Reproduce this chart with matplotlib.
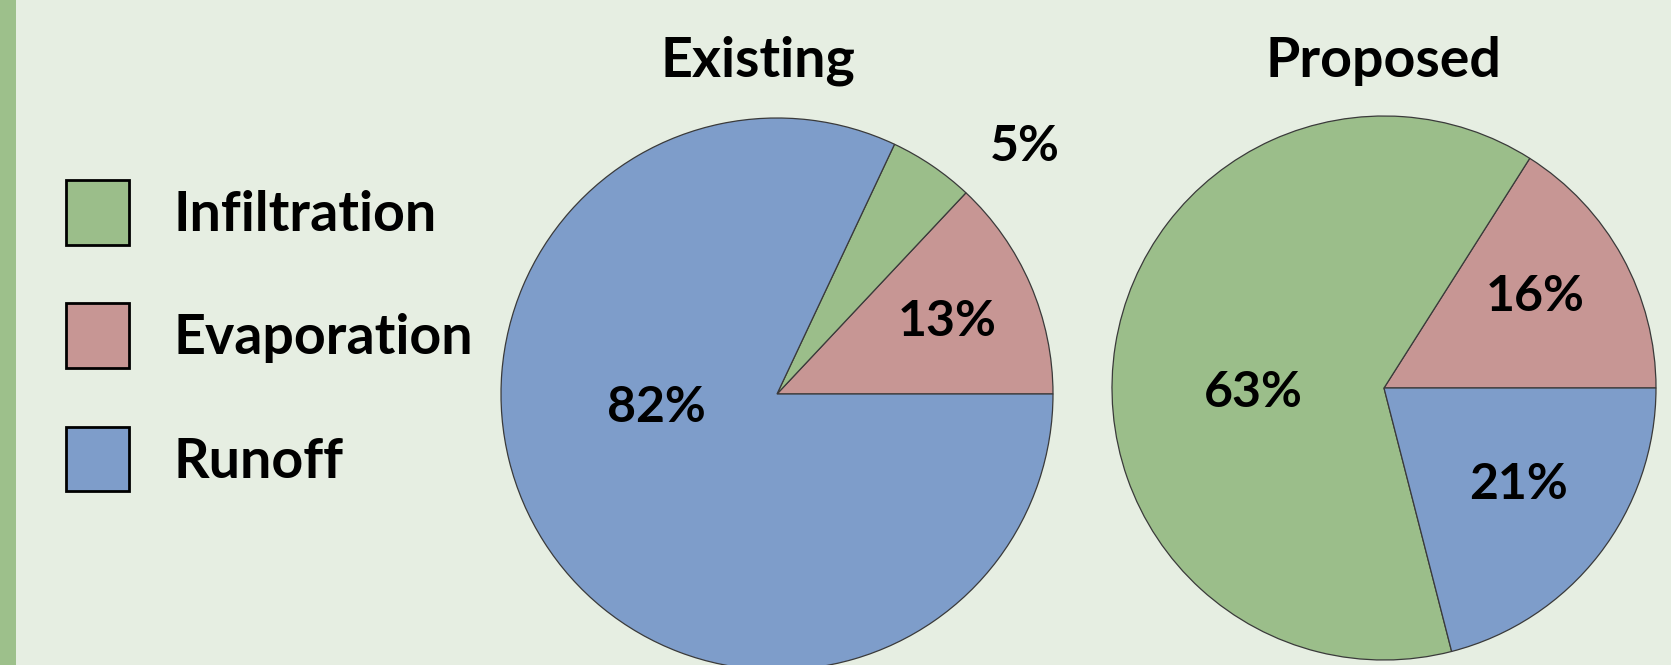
import numpy as np
import matplotlib.pyplot as plt
from matplotlib.patches import Patch

plt.rcParams['font.family'] = ['Lato', 'DejaVu Sans']
plt.rcParams['font.weight'] = 'bold'

categories = ["Infiltration", "Evaporation", "Runoff"]
colors = {"Infiltration": "#9bbe8a", "Evaporation": "#c79694", "Runoff": "#7e9dca"}

# wedges drawn counter-clockwise from 3 o'clock in this order
pie_order = ["Evaporation", "Infiltration", "Runoff"]
existing = [13, 5, 82]
proposed = [16, 63, 21]

# label placement (angle in degrees, distance in radii)
existing_lbl_ang = [23, 45, 186.5]
existing_lbl_dist = [0.67, 1.27, 0.44]
proposed_lbl_ang = [31, 182, -35.6]
proposed_lbl_dist = [0.65, 0.48, 0.61]

W, H = 1671, 665
bg = "#e6eee2"
fig = plt.figure(figsize=(W / 100, H / 100), dpi=100, facecolor=bg)

# green strip on the left edge
fig.add_artist(plt.Rectangle((0, 0), 16 / W, 1, transform=fig.transFigure,
                             facecolor="#9dc08b", edgecolor="none"))


def draw_pie(cx, cy, r, values, angs, dists, title, title_x):
    ax = fig.add_axes([(cx - r) / W, (H - cy - r) / H, 2 * r / W, 2 * r / H])
    ax.set_facecolor("none")
    ax.pie(values, colors=[colors[c] for c in pie_order], startangle=0,
           counterclock=True, radius=1,
           wedgeprops=dict(edgecolor="#3a3a3a", linewidth=0.9))
    ax.set_xlim(-1, 1)
    ax.set_ylim(-1, 1)
    ax.set_aspect("equal")
    ax.axis("off")
    for v, a, d in zip(values, angs, dists):
        t = np.deg2rad(a)
        ax.text(d * np.cos(t), d * np.sin(t), f"{v}%", ha="center", va="center",
                fontsize=36, fontweight="bold")
    fig.text(title_x / W, 1 - 77 / H, title, ha="center", va="baseline",
             fontsize=40, fontweight="bold")
    return ax


draw_pie(777, 394, 276, existing, existing_lbl_ang, existing_lbl_dist, "Existing", 758)
draw_pie(1384, 388, 272, proposed, proposed_lbl_ang, proposed_lbl_dist, "Proposed", 1383)

handles = [Patch(facecolor=colors[c], edgecolor="black", linewidth=2) for c in categories]
fig.legend(handles, categories, loc="upper left", bbox_to_anchor=(66 / W, 1 - 180 / H),
           frameon=False, fontsize=40, handlelength=1.13, handleheight=1.41,
           handletextpad=0.8, labelspacing=1.06, borderaxespad=0, borderpad=0)

fig.savefig("out.png", dpi=100, facecolor=bg)
